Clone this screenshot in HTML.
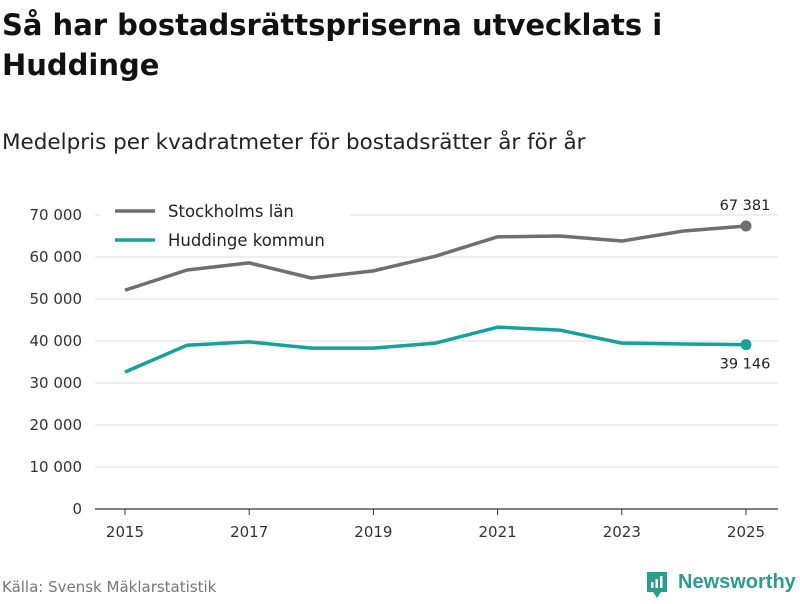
<!DOCTYPE html>
<html><head><meta charset="utf-8"><style>
body{margin:0;width:800px;height:600px;background:#fff;font-family:"DejaVu Sans","Liberation Sans",sans-serif;overflow:hidden;position:relative}
h1{position:absolute;left:2px;top:5px;margin:0;font-size:29px;line-height:40px;font-weight:bold;color:#111;width:720px}
.sub{position:absolute;left:2px;top:130px;font-size:21.5px;color:#222;white-space:nowrap}
.src{position:absolute;left:2px;top:578px;font-size:15px;color:#777}
</style></head><body>
<h1>Så har bostadsrättspriserna utvecklats i Huddinge</h1>
<div class="sub">Medelpris per kvadratmeter för bostadsrätter år för år</div>
<svg id="c" width="800" height="600" style="position:absolute;left:0;top:0"></svg>
<div class="src">Källa: Svensk Mäklarstatistik</div>
<div style="position:absolute;left:645px;top:570px">
<svg width="24" height="30"><path d="M2 2h20v20h-6l-4 6-4-6H2z" fill="#2a9d8f"/><rect x="6" y="12" width="2.5" height="6" fill="#fff"/><rect x="10.5" y="9" width="2.5" height="9" fill="#fff"/><rect x="15" y="6" width="2.5" height="12" fill="#fff"/></svg>
<span style="position:absolute;left:33px;top:1px;font-family:'Liberation Sans',sans-serif;font-size:20px;font-weight:bold;color:#2a9d8f">Newsworthy</span></div>
<script>
const years=[2015,2016,2017,2018,2019,2020,2021,2022,2023,2024,2025];
const stockholm=[52100,56900,58600,55000,56700,60200,64800,65000,63800,66200,67381];
const huddinge=[32600,39000,39800,38300,38300,39500,43300,42600,39500,39300,39146];
const yTicks=[0,10000,20000,30000,40000,50000,60000,70000];
const xTicks=[2015,2017,2019,2021,2023,2025];
const NS="http://www.w3.org/2000/svg",svg=document.getElementById('c');
const x=v=>125+(v-2015)*62.1, y=v=>509-v*0.0042;
const fmt=v=>v.toString().replace(/\B(?=(\d{3})+(?!\d))/g,' ');
function mk(t,a,txt){const e=document.createElementNS(NS,t);for(const k in a)e.setAttribute(k,a[k]);if(txt!=null)e.textContent=txt;svg.appendChild(e);return e;}
yTicks.forEach(v=>{
const g=mk('line',{x1:95,x2:778,y1:y(v),y2:y(v),stroke:v?'#ddd':'#333','stroke-width':v?1:1.2});


const t=mk('text',{x:82,y:y(v)+5,'text-anchor':'end','font-size':15,fill:'#333'},fmt(v));


});
xTicks.forEach(v=>{
const l=mk('line',{x1:x(v),x2:x(v),y1:509,y2:515,stroke:'#333'});


const t=mk('text',{x:x(v),y:537,'text-anchor':'middle','font-size':15,fill:'#333'},v);


});
const lg=mk('rect',{x:100,y:198,width:250,height:58,fill:'#fff'});


[[stockholm,'#6e6e73','stockholm-line',-1],[huddinge,'#16a29a','huddinge-line',1]].forEach(([d,c,n,o])=>{
const p=mk('polyline',{points:d.map((v,i)=>x(years[i])+','+y(v)).join(' '),fill:'none',stroke:c,'stroke-width':3.5,'stroke-linejoin':'round'});


const last=d[d.length-1];
const dot=mk('circle',{cx:x(2025),cy:y(last),r:5.5,fill:c});


const lab=mk('text',{x:x(2025)-1,y:y(last)+(o<0?-16:24),'text-anchor':'middle','font-size':14.5,fill:'#222'},fmt(last));


});
[['Stockholms län','#6e6e73',211],['Huddinge kommun','#16a29a',240]].forEach(([t,c,yy])=>{
const l=mk('line',{x1:115,x2:155,y1:yy,y2:yy,stroke:c,'stroke-width':3.5});


const tx=mk('text',{x:168,y:yy+6,'font-size':16.5,fill:'#222'},t);


});
</script>
</body></html>
